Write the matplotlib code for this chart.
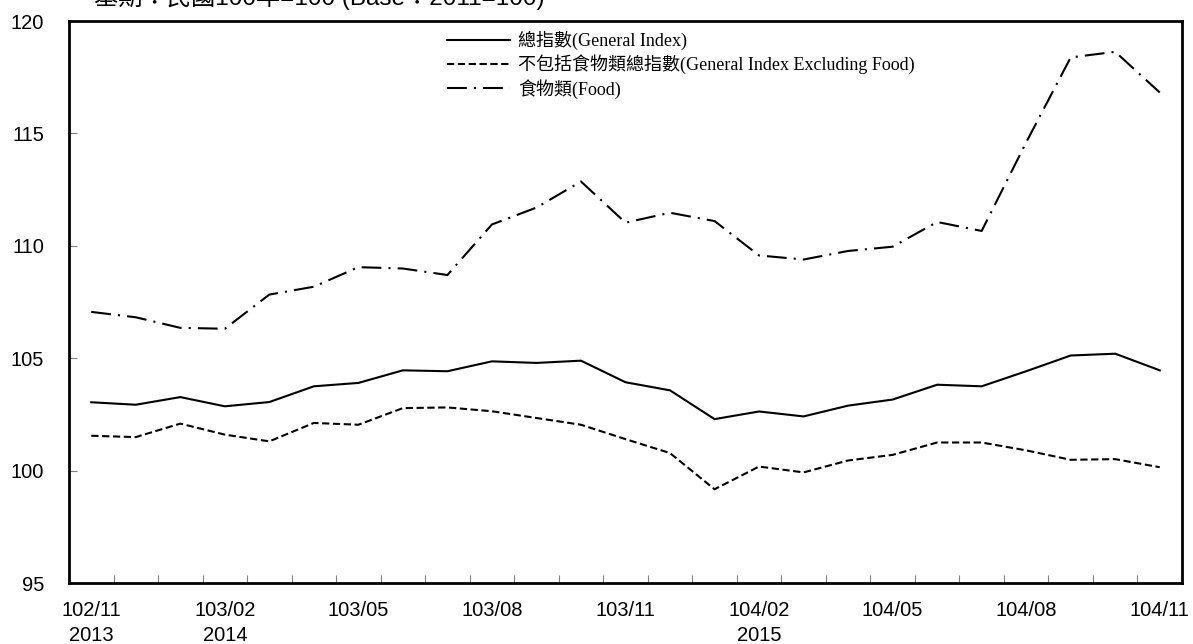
import numpy as np
import matplotlib
matplotlib.use('Agg')
import matplotlib.pyplot as plt

months = ['102/11', '102/12', '103/01', '103/02', '103/03', '103/04', '103/05',
          '103/06', '103/07', '103/08', '103/09', '103/10', '103/11', '103/12',
          '104/01', '104/02', '104/03', '104/04', '104/05', '104/06', '104/07',
          '104/08', '104/09', '104/10', '104/11']
years = {'102/11': '2013', '103/02': '2014', '104/02': '2015'}

general = [103.04, 102.93, 103.27, 102.86, 103.05, 103.75, 103.90, 104.46, 104.42,
           104.86, 104.79, 104.89, 103.93, 103.57, 102.29, 102.63, 102.41, 102.89,
           103.16, 103.82, 103.75, 104.42, 105.12, 105.20, 104.46]
excl_food = [101.55, 101.49, 102.09, 101.60, 101.30, 102.12, 102.04, 102.78, 102.81,
             102.64, 102.34, 102.04, 101.40, 100.78, 99.17, 100.18, 99.92, 100.45,
             100.70, 101.25, 101.25, 100.90, 100.48, 100.51, 100.15]
food = [107.06, 106.82, 106.35, 106.31, 107.83, 108.18, 109.05, 108.99, 108.70,
        110.95, 111.70, 112.86, 111.03, 111.47, 111.10, 109.57, 109.39, 109.77,
        109.96, 111.06, 110.66, 114.60, 118.38, 118.63, 116.82]

legend_labels = ['總指數(General Index)',
                 '不包括食物類總指數(General Index Excluding Food)',
                 '食物類(Food)']
title = '基期：民國100年=100 (Base：2011=100)'

sans = ['Liberation Sans', 'Noto Sans CJK TC']
serif = ['Liberation Serif', 'Noto Sans CJK TC']

fig = plt.figure(figsize=(11.93, 6.44), dpi=100)
ax = fig.add_axes([69 / 1193, 1 - 583 / 644, (1182 - 69) / 1193, (583 - 21) / 644])

x = np.arange(len(months))
ax.plot(x, general, color='black', lw=1.5, label=legend_labels[0])
ax.plot(x, excl_food, color='black', lw=1.5, linestyle=(0, (3.5, 1.7)),
        label=legend_labels[1])
ax.plot(x, food, color='black', lw=1.5, linestyle=(0, (9.5, 3.4, 1, 3.4)),
        label=legend_labels[2])

ax.set_xlim(-0.5, len(months) - 0.5)
ax.set_ylim(95, 120)
ax.set_yticks(np.arange(95, 121, 5))

major = x[::3]
ax.set_xticks(major)
ax.set_xticklabels([m + ('\n' + years[m] if m in years else '') for m in months[::3]])
ax.set_xticks(np.arange(0.5, len(months) - 0.5, 1), minor=True)
ax.tick_params(axis='x', which='major', length=0, pad=13)
ax.tick_params(axis='x', which='minor', direction='in', length=6, width=0.8,
               color='#808080')
ax.tick_params(axis='y', direction='in', length=6, width=0.8, color='#808080', pad=18)

for lab in ax.get_xticklabels() + ax.get_yticklabels():
    lab.set_family(sans)
    lab.set_fontsize(14.5)
for lab in ax.get_xticklabels():
    lab.set_linespacing(1.4)

for sp in ax.spines.values():
    sp.set_linewidth(2)

leg = ax.legend(loc='upper left', bbox_to_anchor=((447 - 69) / 1113, (583 - 31) / 562),
                frameon=False, borderpad=0, borderaxespad=0, handlelength=3.5,
                handletextpad=0.42, labelspacing=0.25,
                prop={'family': serif, 'size': 13})

fig.text(94 / 1193, 1 - 5 / 644, title, family=sans, fontsize=17.5, va='baseline')

fig.savefig('out.png', dpi=100)
